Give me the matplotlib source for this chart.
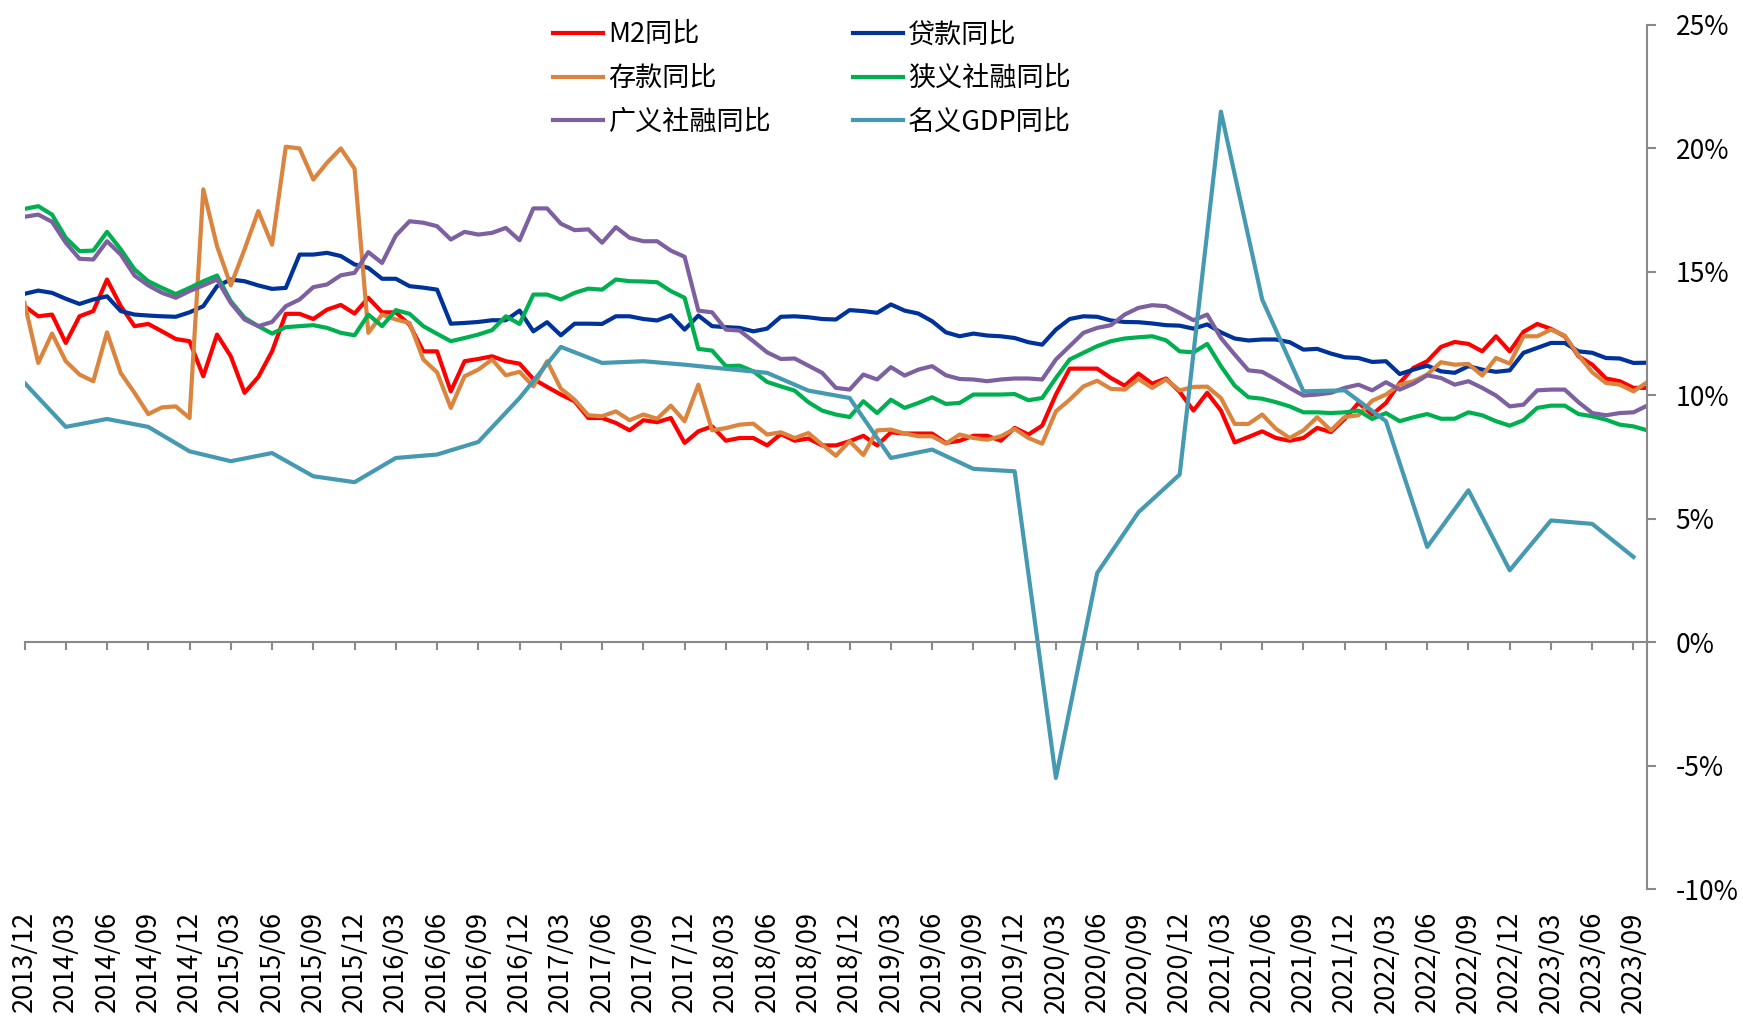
import matplotlib.pyplot as plt
import numpy as np
import pandas as pd

plt.rcParams['font.family'] = ['Noto Sans CJK SC', 'DejaVu Sans']

months = list(pd.period_range('2013-12', '2023-10', freq='M').strftime('%Y/%m'))

m2 = [13.61, 13.2, 13.27, 12.12, 13.2, 13.41, 14.69, 13.61, 12.8, 12.89, 12.59, 12.28, 12.19, 10.77, 12.46,
      11.58, 10.1, 10.74, 11.78, 13.3, 13.3, 13.09, 13.47, 13.66, 13.31, 13.95, 13.36, 13.36, 12.86,
      11.78, 11.78, 10.16, 11.38, 11.47, 11.58, 11.38, 11.28, 10.66, 10.34, 10.03, 9.76, 9.08, 9.08,
      8.88, 8.58, 8.99, 8.91, 9.08, 8.07, 8.54, 8.74, 8.16, 8.27, 8.27, 7.97, 8.43, 8.16, 8.25,
      7.97, 7.97, 8.14, 8.36, 7.97, 8.5, 8.45, 8.45, 8.45, 8.07, 8.16, 8.36, 8.36, 8.16, 8.68, 8.41,
      8.77, 10.03, 11.08, 11.08, 11.08, 10.7, 10.39, 10.88, 10.47, 10.68, 10.14, 9.38, 10.1,
      9.38, 8.09, 8.31, 8.54, 8.27, 8.16, 8.27, 8.68, 8.51, 9.04, 9.69, 9.22, 9.69, 10.5, 11.11,
      11.38, 11.96, 12.16, 12.08, 11.78, 12.39, 11.78, 12.57, 12.89, 12.69, 12.39, 11.58, 11.24,
      10.68, 10.57, 10.3, 10.3]

loans = [14.11, 14.24, 14.15, 13.91, 13.7, 13.88, 14.01, 13.41, 13.27, 13.23, 13.2, 13.18, 13.36, 13.61,
         14.42, 14.69, 14.62, 14.45, 14.31, 14.35, 15.7, 15.7, 15.77, 15.64, 15.3, 15.16, 14.72, 14.72, 14.42,
         14.36, 14.28, 12.9, 12.93, 12.97, 13.04, 13.04, 13.43, 12.59, 12.96, 12.43, 12.9, 12.9, 12.89,
         13.2, 13.2, 13.09, 13.03, 13.24, 12.66, 13.23, 12.8, 12.76, 12.73, 12.59, 12.7, 13.18, 13.2, 13.16,
         13.09, 13.07, 13.45, 13.41, 13.34, 13.68, 13.43, 13.31, 13.0, 12.55, 12.39, 12.5, 12.42, 12.39,
         12.32, 12.15, 12.05, 12.66, 13.09, 13.2, 13.18, 13.03, 12.97, 12.96, 12.91, 12.84, 12.82, 12.7, 12.87,
         12.55, 12.3, 12.22, 12.26, 12.26, 12.15, 11.85, 11.88, 11.69, 11.54, 11.51, 11.35, 11.38, 10.86,
         11.04, 11.2, 10.97, 10.91, 11.18, 11.04, 10.95, 11.01, 11.72, 11.92, 12.12, 12.12, 11.78, 11.72,
         11.51, 11.49, 11.31, 11.32]

deposits = [13.74, 11.31, 12.5, 11.38, 10.84, 10.57, 12.55, 10.9, 10.1, 9.24, 9.51, 9.55, 9.08, 18.34, 16.04,
            14.45, 15.91, 17.46, 16.1, 20.07, 20.0, 18.74, 19.42, 20.0, 19.18, 12.53, 13.27, 13.07, 12.93,
            11.45, 10.93, 9.49, 10.77, 11.04, 11.45, 10.81, 10.95, 10.36, 11.38, 10.27, 9.82, 9.19, 9.15,
            9.35, 8.99, 9.22, 9.05, 9.58, 8.95, 10.43, 8.58, 8.67, 8.81, 8.85, 8.41, 8.5, 8.27, 8.47,
            8.0, 7.55, 8.14, 7.58, 8.58, 8.61, 8.45, 8.34, 8.34, 8.04, 8.41, 8.27, 8.2, 8.34, 8.64, 8.27,
            8.04, 9.35, 9.82, 10.36, 10.59, 10.26, 10.23, 10.66, 10.3, 10.64, 10.2, 10.34, 10.35,
            9.89, 8.84, 8.84, 9.22, 8.64, 8.27, 8.58, 9.11, 8.58, 9.12, 9.19, 9.78, 10.03, 10.43, 10.57,
            10.84, 11.34, 11.24, 11.27, 10.8, 11.51, 11.28, 12.39, 12.39, 12.66, 12.42, 11.62, 10.93,
            10.5, 10.43, 10.16, 10.53]

tsf_narrow = [17.55, 17.66, 17.32, 16.38, 15.84, 15.86, 16.62, 15.91, 15.1, 14.62, 14.35, 14.1, 14.35, 14.62,
              14.85, 13.81, 13.14, 12.8, 12.5, 12.76, 12.8, 12.84, 12.73, 12.53, 12.43, 13.27, 12.8, 13.45, 13.3,
              12.8, 12.49, 12.19, 12.32, 12.46, 12.64, 13.2, 12.89, 14.08, 14.08, 13.88, 14.15, 14.32, 14.28,
              14.69, 14.62, 14.61, 14.58, 14.22, 13.95, 11.88, 11.81, 11.18, 11.2, 10.97, 10.54, 10.36, 10.19, 9.72,
              9.38, 9.22, 9.12, 9.76, 9.28, 9.82, 9.49, 9.69, 9.92, 9.65, 9.69, 10.03, 10.03, 10.03, 10.05, 9.8,
              9.89, 10.7, 11.45, 11.72, 11.99, 12.19, 12.3, 12.35, 12.39, 12.23, 11.78, 11.74, 12.08,
              11.18, 10.39, 9.92, 9.86, 9.72, 9.55, 9.31, 9.31, 9.28, 9.31, 9.38, 9.04, 9.28, 8.95, 9.11,
              9.24, 9.05, 9.05, 9.31, 9.19, 8.95, 8.77, 8.99, 9.49, 9.58, 9.58, 9.24, 9.15, 9.01, 8.81,
              8.74, 8.58]

tsf_broad = [17.23, 17.32, 17.03, 16.18, 15.53, 15.5, 16.24, 15.7, 14.85, 14.45, 14.15, 13.95, 14.22, 14.45,
             14.69, 13.74, 13.07, 12.8, 12.97, 13.61, 13.88, 14.38, 14.49, 14.86, 14.96, 15.8, 15.36, 16.47, 17.05,
             16.99, 16.85, 16.31, 16.62, 16.51, 16.58, 16.78, 16.28, 17.57, 17.57, 16.95, 16.69, 16.72, 16.18,
             16.81, 16.38, 16.24, 16.24, 15.86, 15.61, 13.43, 13.36, 12.66, 12.62, 12.19, 11.74, 11.47, 11.49, 11.2,
             10.91, 10.3, 10.23, 10.84, 10.64, 11.14, 10.8, 11.04, 11.18, 10.81, 10.66, 10.64, 10.57, 10.64,
             10.68, 10.68, 10.64, 11.45, 11.99, 12.53, 12.73, 12.84, 13.27, 13.54, 13.65, 13.61, 13.34, 13.04, 13.27,
             12.32, 11.65, 11.01, 10.95, 10.64, 10.3, 9.99, 10.03, 10.1, 10.3, 10.43, 10.2, 10.53, 10.23, 10.47,
             10.81, 10.7, 10.43, 10.57, 10.3, 9.99, 9.55, 9.62, 10.2, 10.23, 10.23, 9.72, 9.28, 9.19, 9.28,
             9.31, 9.58]

# nominal GDP, quarterly (2013/12 ... 2023/09)
gdp = [10.5, 8.72, 9.04, 8.72, 7.73, 7.33, 7.66, 6.72, 6.48, 7.46, 7.6, 8.11, 9.89, 11.96, 11.31, 11.38,
       11.24, 11.07, 10.91, 10.19, 9.89, 7.46, 7.8, 7.02, 6.92, -5.5, 2.8, 5.26, 6.79, 21.49, 13.88, 10.16,
       10.2, 8.95, 3.86, 6.15, 2.91, 4.93, 4.79, 3.45]

x = np.arange(len(months))
gdp_x = np.arange(0, len(months) - 1, 3)

fig = plt.figure(figsize=(17.43, 10.16), dpi=100)
ax = fig.add_axes([0.01406, 0.125, 0.9310, 0.8504])

lw = 3.0
l_m2, = ax.plot(x, m2, color='#FF0000', lw=lw, label='M2同比')
l_loan, = ax.plot(x, loans, color='#003399', lw=lw, label='贷款同比')
l_dep, = ax.plot(x, deposits, color='#DB843D', lw=lw, label='存款同比')
l_nar, = ax.plot(x, tsf_narrow, color='#00B050', lw=lw, label='狭义社融同比')
l_brd, = ax.plot(x, tsf_broad, color='#7D60A0', lw=lw, label='广义社融同比')
l_gdp, = ax.plot(gdp_x, gdp, color='#4599B1', lw=lw, label='名义GDP同比')

ax.set_xlim(0, len(months) - 1)
ax.set_ylim(-10, 25)

axis_grey = '#898989'
ax.spines['top'].set_visible(False)
ax.spines['left'].set_visible(False)
ax.spines['bottom'].set_position(('data', 0))
ax.spines['bottom'].set_color(axis_grey)
ax.spines['bottom'].set_linewidth(1.5)
ax.spines['right'].set_color(axis_grey)
ax.spines['right'].set_linewidth(1.5)

ax.set_xticks(x[::3])
ax.tick_params(axis='x', direction='out', length=6, width=1.5, color=axis_grey, labelbottom=False)

ax.yaxis.tick_right()
yt = np.arange(-10, 26, 5)
ax.set_yticks(yt)
ax.set_yticklabels([f'{v}%' for v in yt])
ax.tick_params(axis='y', direction='out', length=6.5, width=1.5, color=axis_grey, pad=14, labelsize=19)

sec = ax.secondary_xaxis('bottom')
sec.set_xticks(x[::3])
sec.set_xticklabels(months[::3], rotation=90, fontsize=19.5)
sec.tick_params(length=0, pad=16)
sec.spines['bottom'].set_visible(False)

handles = [l_m2, l_dep, l_brd, l_loan, l_nar, l_gdp]
fig.legend(handles=handles, labels=[h.get_label() for h in handles], ncol=2,
           loc='upper left', bbox_to_anchor=(0.3173, 0.979), frameon=False,
           fontsize=19.5, handlelength=1.85, handletextpad=0.2, columnspacing=3.0,
           labelspacing=0.62, borderpad=0, borderaxespad=0)

fig.savefig('out.png', dpi=100, facecolor='white')
